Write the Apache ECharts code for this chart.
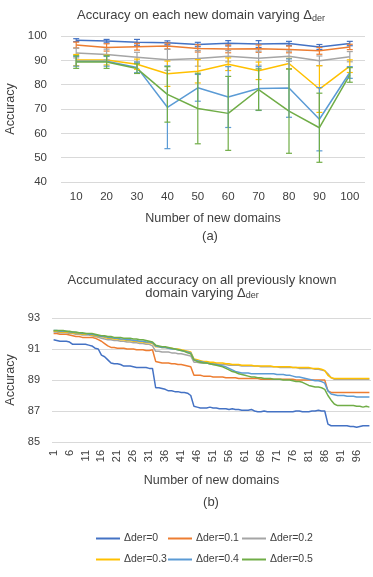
<!DOCTYPE html>
<html><head><meta charset="utf-8">
<script src="https://cdn.jsdelivr.net/npm/echarts@6/dist/echarts.min.js"></script>
<style>html,body{margin:0;padding:0;background:#fff}#c{width:373px;height:577px}</style>
</head><body><div id="c"></div>
<script>
// ---------- data ----------
const seriesNames = ['Δder=0', 'Δder=0.1', 'Δder=0.2', 'Δder=0.3', 'Δder=0.4', 'Δder=0.5'];

// chart (a): accuracy on each new domain
const catsA = ['10', '20', '30', '40', '50', '60', '70', '80', '90', '100'];
const accA0 = [98.3, 97.9, 97.4, 97.2, 96.5, 97.0, 96.7, 96.9, 95.5, 96.9];
const accA1 = [96.3, 95.3, 95.6, 95.9, 94.9, 94.7, 94.8, 94.5, 93.9, 95.5];
const accA2 = [93.0, 92.4, 91.3, 90.2, 90.8, 91.7, 90.9, 91.7, 89.8, 91.5];
const accA3 = [90.1, 90.1, 88.4, 84.5, 85.5, 88.4, 85.7, 88.7, 78.2, 87.6];
const accA4 = [89.6, 89.6, 87.1, 70.7, 78.7, 74.9, 78.4, 78.6, 65.8, 85.0];
const accA5 = [89.3, 89.3, 86.6, 76.0, 70.2, 68.2, 78.0, 69.1, 62.3, 84.0];
const errA0 = [0.6, 0.7, 1.2, 0.8, 0.9, 1.1, 1.4, 0.9, 1.0, 0.9];
const errA1 = [1.2, 1.5, 1.4, 1.2, 1.5, 1.6, 1.5, 1.4, 1.4, 1.1];
const errA2 = [2.0, 2.2, 2.0, 4.3, 3.2, 2.3, 2.9, 2.1, 2.0, 2.1];
const errA3 = [2.3, 2.0, 2.1, 5.2, 4.8, 2.6, 3.6, 2.1, 9.6, 2.6];
const errA4 = [2.0, 2.0, 2.2, 17.0, 5.5, 12.5, 9.0, 12.0, 13.0, 2.4];
const errA5 = [2.6, 2.6, 2.0, 11.4, 14.5, 15.2, 8.5, 17.3, 14.2, 3.0];
const yTicksA = {min: 40, max: 100, step: 10};

// chart (b): accumulated accuracy on all previously known domains
const catsB = Array.from({length: 100}, (_, i) => String(i + 1));
const accB0 = [91.6,91.55,91.5,91.5,91.5,91.45,91.3,91.3,91.3,91.3,
  91.3,91.25,91.2,91.05,91.0,90.6,90.5,90.3,90.1,90.05,
  90.05,90.0,89.9,89.9,89.9,89.85,89.8,89.8,89.8,89.8,
  89.75,89.75,88.5,88.5,88.45,88.4,88.3,88.3,88.25,88.25,
  88.2,88.2,88.15,88.0,87.3,87.25,87.2,87.2,87.2,87.25,
  87.2,87.2,87.15,87.15,87.15,87.1,87.15,87.1,87.1,87.05,
  87.05,87.05,87.1,87.0,86.95,86.95,87.0,86.95,86.95,86.95,
  86.95,86.95,86.95,86.95,86.95,86.95,87.0,87.0,86.95,86.95,
  86.95,87.0,87.0,87.05,87.0,87.0,86.15,86.05,86.05,86.05,
  86.05,86.05,86.05,86.0,86.0,85.95,86.0,86.05,86.05,86.05];
const accB1 = [92.0,92.0,91.95,91.95,91.95,91.9,91.85,91.8,91.8,91.75,
  91.75,91.75,91.75,91.7,91.6,91.5,91.35,91.2,91.1,91.1,
  91.05,91.05,91.05,91.0,91.0,91.0,90.95,90.95,90.95,90.9,
  90.9,90.95,90.2,90.15,90.1,90.1,90.1,90.05,90.05,90.0,
  90.0,89.95,89.9,89.85,89.3,89.3,89.3,89.25,89.25,89.25,
  89.2,89.2,89.2,89.2,89.15,89.15,89.15,89.15,89.1,89.1,
  89.1,89.1,89.1,89.1,89.1,89.05,89.05,89.05,89.05,89.05,
  89.05,89.05,89.05,89.05,89.05,89.05,89.0,89.0,89.0,89.0,
  89.0,89.0,89.0,89.0,89.0,89.0,88.3,88.2,88.2,88.2,
  88.2,88.2,88.2,88.2,88.2,88.2,88.2,88.2,88.2,88.2];
const accB2 = [92.1,92.1,92.05,92.05,92.05,92.0,92.0,91.95,91.95,91.9,
  91.9,91.9,91.85,91.8,91.75,91.7,91.65,91.6,91.6,91.55,
  91.55,91.5,91.5,91.45,91.45,91.4,91.4,91.35,91.35,91.3,
  91.3,91.2,90.85,90.85,90.8,90.8,90.8,90.75,90.75,90.7,
  90.7,90.65,90.6,90.55,90.15,90.15,90.1,90.1,90.1,90.05,
  90.05,90.05,90.0,90.0,90.0,89.95,89.95,89.95,89.95,89.9,
  89.9,89.9,89.9,89.9,89.9,89.85,89.85,89.85,89.85,89.85,
  89.85,89.8,89.8,89.8,89.8,89.8,89.8,89.75,89.75,89.75,
  89.75,89.75,89.7,89.7,89.65,89.6,89.4,89.15,89.05,89.05,
  89.05,89.05,89.05,89.05,89.05,89.05,89.05,89.05,89.05,89.05];
const accB3 = [92.15,92.15,92.1,92.1,92.1,92.05,92.05,92.0,92.0,91.95,
  91.95,91.95,91.9,91.85,91.8,91.8,91.75,91.7,91.7,91.65,
  91.65,91.6,91.6,91.55,91.55,91.5,91.5,91.45,91.45,91.4,
  91.4,91.35,91.15,91.15,91.1,91.1,91.05,91.05,91.0,91.0,
  90.95,90.9,90.85,90.8,90.35,90.3,90.25,90.2,90.2,90.15,
  90.15,90.1,90.1,90.1,90.05,90.05,90.0,90.0,90.0,89.95,
  89.95,89.95,89.95,89.9,89.9,89.9,89.9,89.9,89.9,89.85,
  89.85,89.85,89.85,89.85,89.85,89.8,89.8,89.8,89.8,89.8,
  89.8,89.75,89.75,89.75,89.7,89.6,89.3,89.15,89.1,89.1,
  89.1,89.1,89.1,89.1,89.1,89.1,89.1,89.1,89.1,89.1];
const accB4 = [92.2,92.2,92.15,92.15,92.15,92.1,92.1,92.05,92.05,92.0,
  92.0,91.95,91.95,91.9,91.85,91.8,91.8,91.75,91.75,91.7,
  91.7,91.65,91.65,91.6,91.6,91.55,91.55,91.5,91.5,91.45,
  91.45,91.4,91.2,91.15,91.1,91.1,91.05,91.0,91.0,90.95,
  90.9,90.85,90.8,90.75,90.3,90.25,90.2,90.15,90.1,90.05,
  90.0,90.0,89.95,89.9,89.85,89.75,89.65,89.55,89.5,89.45,
  89.45,89.45,89.4,89.4,89.4,89.4,89.4,89.4,89.4,89.4,
  89.35,89.35,89.35,89.3,89.3,89.25,89.2,89.2,89.15,89.1,
  89.05,89.0,88.95,88.95,88.9,88.8,88.3,88.1,88.05,88.0,
  88.0,88.0,87.95,87.95,87.95,87.9,87.9,87.9,87.9,87.9];
const accB5 = [92.2,92.2,92.2,92.2,92.15,92.15,92.1,92.1,92.05,92.05,
  92.0,92.0,92.0,91.95,91.9,91.85,91.85,91.8,91.8,91.75,
  91.75,91.75,91.7,91.7,91.7,91.65,91.65,91.6,91.6,91.55,
  91.5,91.45,91.25,91.2,91.15,91.15,91.1,91.05,91.0,90.95,
  90.9,90.85,90.75,90.7,90.3,90.2,90.15,90.1,90.1,90.05,
  90.0,89.95,89.9,89.85,89.75,89.65,89.55,89.5,89.4,89.35,
  89.3,89.25,89.2,89.2,89.15,89.15,89.1,89.1,89.1,89.05,
  89.05,89.05,89.0,89.0,89.0,88.95,88.9,88.9,88.85,88.75,
  88.65,88.6,88.55,88.55,88.5,88.4,88.0,87.7,87.45,87.35,
  87.35,87.35,87.35,87.35,87.35,87.3,87.3,87.25,87.3,87.25];
const yTicksB = {min: 85, max: 93, step: 2};

// ---------- styling ----------
const colors = ['#4472C4', '#ED7D31', '#A5A5A5', '#FFC000', '#5B9BD5', '#70AD47'];
const FONT = '"Liberation Sans", Arial, sans-serif';
const TXT = '#404040';
const GRIDC = '#D9D9D9';

const accA = [accA0, accA1, accA2, accA3, accA4, accA5];
const errA = [errA0, errA1, errA2, errA3, errA4, errA5];
const accB = [accB0, accB1, accB2, accB3, accB4, accB5];

function errSeries(vals, errs, color) {
  return {
    type: 'custom', xAxisIndex: 0, yAxisIndex: 0, silent: true, z: 3,
    encode: {x: 0, y: 1},
    data: vals.map((v, i) => [i, v, errs[i]]),
    renderItem(params, api) {
      const i = api.value(0), v = api.value(1), e = api.value(2);
      const top = api.coord([i, v + e]), bot = api.coord([i, v - e]);
      const x = top[0], w = 3;
      const st = {stroke: color, lineWidth: 1.2};
      return {type: 'group', children: [
        {type: 'line', shape: {x1: x, y1: top[1], x2: x, y2: bot[1]}, style: st},
        {type: 'line', shape: {x1: x - w, y1: top[1], x2: x + w, y2: top[1]}, style: st},
        {type: 'line', shape: {x1: x - w, y1: bot[1], x2: x + w, y2: bot[1]}, style: st}
      ]};
    }
  };
}

const series = [];
accA.forEach((d, k) => {
  series.push({name: seriesNames[k], type: 'line', xAxisIndex: 0, yAxisIndex: 0, data: d,
    symbol: 'none', lineStyle: {width: 1.5, color: colors[k]}, itemStyle: {color: colors[k]}, z: 2});
});
errA.forEach((e, k) => series.push(errSeries(accA[k], e, colors[k])));
accB.forEach((d, k) => {
  series.push({name: seriesNames[k], type: 'line', xAxisIndex: 1, yAxisIndex: 1, data: d,
    symbol: 'none', lineStyle: {width: 1.5, color: colors[k]}, itemStyle: {color: colors[k]}});
});

const legendPos = [[96, 533], [168, 533], [242, 533], [96, 554], [168, 554], [242, 554]];
const subRich = {s: {fontSize: 9, fontFamily: FONT, color: TXT, verticalAlign: 'bottom', lineHeight: 14, padding: [4, 0, 0, 0]}};

const option = {
  animation: false,
  backgroundColor: '#fff',
  color: colors,
  textStyle: {fontFamily: FONT},
  title: [
    {text: 'Accuracy on each new domain varying Δ{s|der}', left: 201, top: 7, textAlign: 'center', padding: 0,
      textStyle: {fontSize: 13, fontWeight: 'normal', color: TXT, fontFamily: FONT, lineHeight: 16, rich: subRich}},
    {text: '(a)', left: 210, top: 230, textAlign: 'center', padding: 0,
      textStyle: {fontSize: 13, fontWeight: 'normal', color: TXT, fontFamily: FONT}},
    {text: 'Accumulated accuracy on all previously known\ndomain varying Δ{s|der}', left: 202, top: 274, textAlign: 'center', padding: 0,
      textStyle: {fontSize: 13, fontWeight: 'normal', color: TXT, fontFamily: FONT, lineHeight: 13, rich: {s: {fontSize: 9, fontFamily: FONT, color: TXT, verticalAlign: 'bottom', lineHeight: 12, padding: [4, 0, 0, 0]}}}},
    {text: '(b)', left: 211, top: 496, textAlign: 'center', padding: 0,
      textStyle: {fontSize: 13, fontWeight: 'normal', color: TXT, fontFamily: FONT}}
  ],
  legend: seriesNames.map((n, i) => ({
    data: [n], left: legendPos[i][0], top: legendPos[i][1], icon: 'rect', itemWidth: 24, itemHeight: 2,
    itemGap: 0, padding: 0, selectedMode: false,
    textStyle: {fontSize: 10.5, color: TXT, fontFamily: FONT, padding: [0, 0, 0, -1]}
  })),
  grid: [
    {left: 61, top: 36, width: 304, height: 146, outerBoundsMode: 'none', containLabel: false},
    {left: 52, top: 318, width: 319, height: 124, outerBoundsMode: 'none', containLabel: false}
  ],
  xAxis: [
    {type: 'category', gridIndex: 0, data: catsA, axisLine: {show: false}, axisTick: {show: false},
      axisLabel: {fontSize: 11.5, color: TXT, margin: 9, fontFamily: FONT},
      name: 'Number of new domains', nameLocation: 'middle', nameGap: 30,
      nameTextStyle: {fontSize: 12.5, color: TXT, fontFamily: FONT}},
    {type: 'category', gridIndex: 1, data: catsB, axisLine: {show: false}, axisTick: {show: false},
      axisLabel: {fontSize: 11, color: TXT, margin: 8, rotate: 90, interval: 4, fontFamily: FONT},
      name: 'Number of new domains', nameLocation: 'middle', nameGap: 32,
      nameTextStyle: {fontSize: 12.5, color: TXT, fontFamily: FONT}}
  ],
  yAxis: [
    {type: 'value', gridIndex: 0, min: yTicksA.min, max: yTicksA.max, interval: yTicksA.step,
      axisLine: {show: false}, axisTick: {show: false},
      splitLine: {lineStyle: {color: GRIDC, width: 1}},
      axisLabel: {fontSize: 11.5, color: TXT, margin: 14, fontFamily: FONT},
      name: 'Accuracy', nameLocation: 'middle', nameGap: 44,
      nameTextStyle: {fontSize: 12.5, color: TXT, fontFamily: FONT}},
    {type: 'value', gridIndex: 1, min: yTicksB.min, max: yTicksB.max, interval: yTicksB.step,
      axisLine: {show: false}, axisTick: {show: false},
      splitLine: {lineStyle: {color: GRIDC, width: 1}},
      axisLabel: {fontSize: 11, color: TXT, margin: 12, fontFamily: FONT},
      name: 'Accuracy', nameLocation: 'middle', nameGap: 34,
      nameTextStyle: {fontSize: 12.5, color: TXT, fontFamily: FONT}}
  ],
  series
};
const chart = echarts.init(document.getElementById('c'), null, {renderer: 'canvas'});
chart.setOption(option);
</script></body></html>
